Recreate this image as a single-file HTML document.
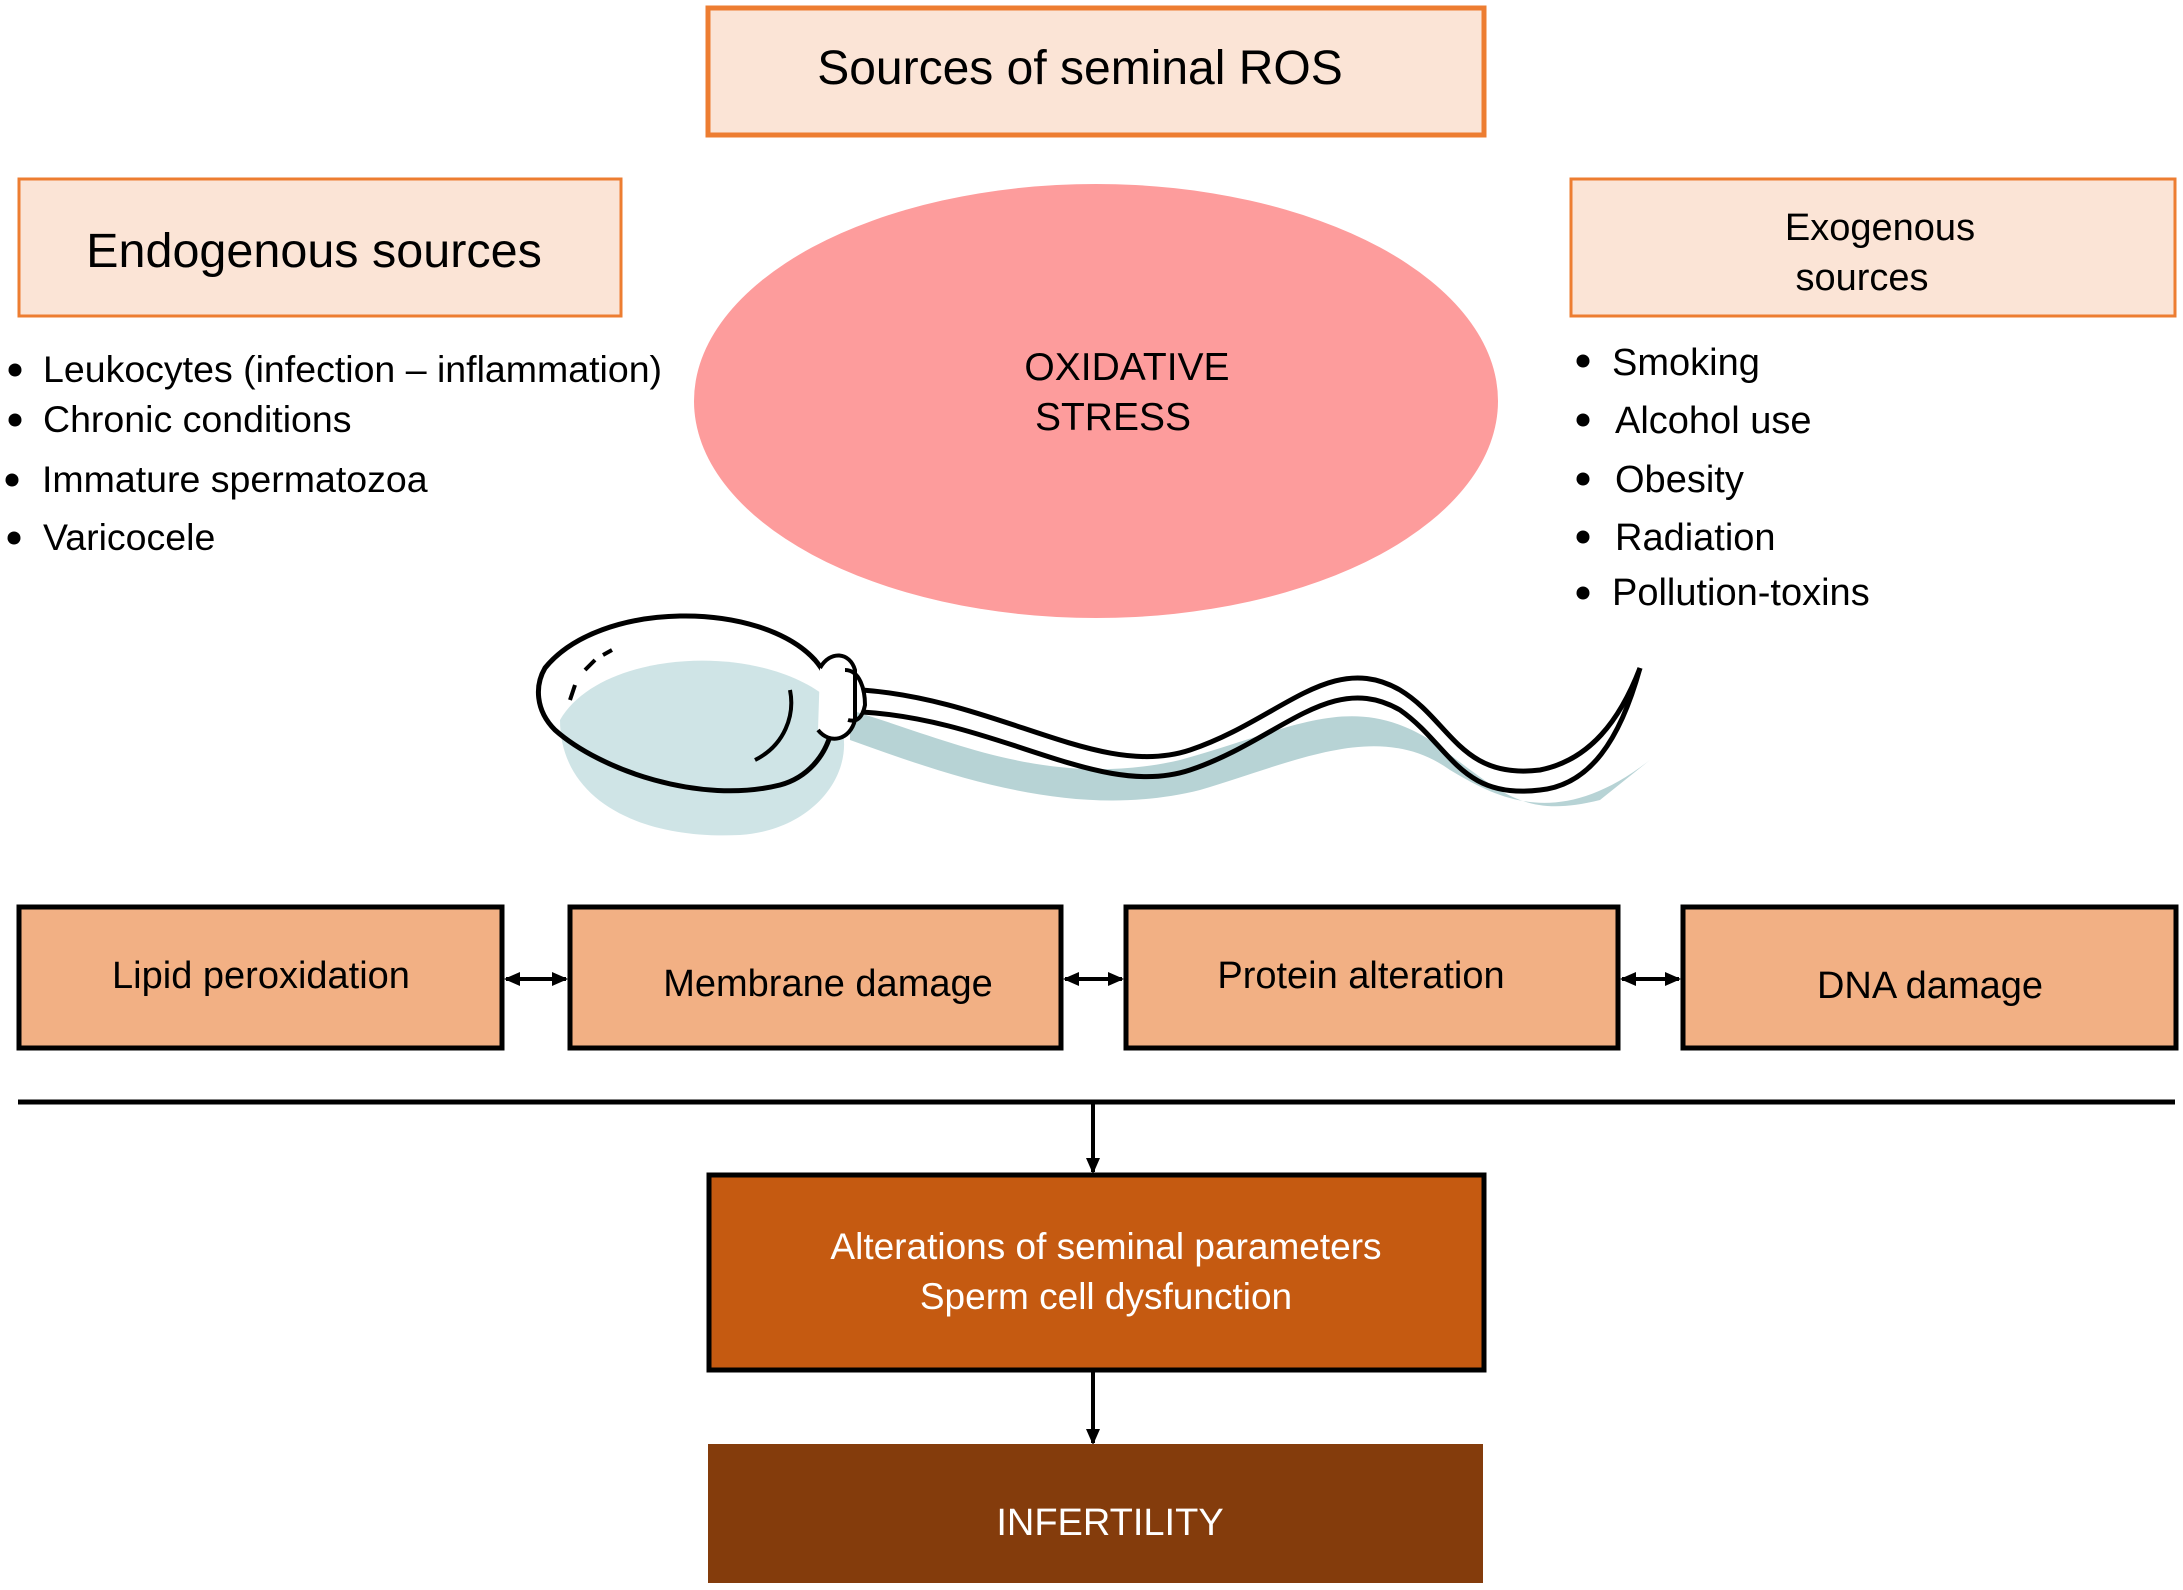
<!DOCTYPE html>
<html><head><meta charset="utf-8"><style>
html,body{margin:0;padding:0;background:#fff;}
svg{display:block;font-family:"Liberation Sans",Arial,sans-serif;}
</style></head><body>
<svg width="2183" height="1590" viewBox="0 0 2183 1590" xmlns="http://www.w3.org/2000/svg">
<defs>
<marker id="ah" markerWidth="16" markerHeight="14" refX="14" refY="7" orient="auto-start-reverse" markerUnits="userSpaceOnUse"><path d="M0,0 L16,7 L0,14 z" fill="#000"/></marker>
</defs>
<rect x="708" y="8" width="776" height="127" fill="#fbe4d6" stroke="#ed7d31" stroke-width="5"/>
<text x="1080" y="84" font-size="48" text-anchor="middle">Sources of seminal ROS</text>
<rect x="19" y="179" width="602" height="137" fill="#fbe4d6" stroke="#ed7d31" stroke-width="3"/>
<text x="314" y="267" font-size="48.5" text-anchor="middle">Endogenous sources</text>
<rect x="1571" y="179" width="604" height="137" fill="#fbe4d6" stroke="#ed7d31" stroke-width="3"/>
<text x="1880" y="240" font-size="38" text-anchor="middle">Exogenous</text>
<text x="1862" y="290" font-size="38" text-anchor="middle">sources</text>
<ellipse cx="1096" cy="401" rx="402" ry="217" fill="#fd9c9c"/>
<text x="1127" y="380" font-size="39" text-anchor="middle">OXIDATIVE</text>
<text x="1113" y="430" font-size="39" text-anchor="middle">STRESS</text>
<g font-size="37.5">
<text x="43" y="382">Leukocytes (infection – inflammation)</text>
<text x="43" y="432">Chronic conditions</text>
<text x="42" y="492">Immature spermatozoa</text>
<text x="43" y="550">Varicocele</text>
</g>
<g fill="#000"><circle cx="15" cy="370" r="6.5"/><circle cx="15" cy="420" r="6.5"/><circle cx="12" cy="480" r="6.5"/><circle cx="14" cy="538" r="6.5"/></g>
<g font-size="38">
<text x="1612" y="375">Smoking</text>
<text x="1615" y="433">Alcohol use</text>
<text x="1615" y="492">Obesity</text>
<text x="1615" y="550">Radiation</text>
<text x="1612" y="605">Pollution-toxins</text>
</g>
<g fill="#000"><circle cx="1583" cy="361" r="6.5"/><circle cx="1583" cy="420" r="6.5"/><circle cx="1583" cy="479" r="6.5"/><circle cx="1583" cy="537" r="6.5"/><circle cx="1583" cy="593" r="6.5"/></g>
<g>
<path d="M560,720 C600,650 760,640 830,700 C870,760 820,830 740,835 C640,840 560,800 560,720 Z" fill="#cfe4e6"/>
<path d="M850,710 C950,740 1050,790 1180,760 C1290,730 1350,690 1430,740 C1500,790 1520,820 1600,800 L1650,760 C1560,830 1500,800 1450,770 C1380,720 1300,760 1200,790 C1080,820 960,780 850,740 Z" fill="#b7d3d5"/>
<path d="M545,668 C600,600 760,600 815,660 C850,700 835,770 780,785 C700,805 600,770 555,730 C535,710 535,685 545,668 Z" fill="none" stroke="#000" stroke-width="5"/>
<path d="M755,760 C785,745 795,715 790,690" fill="none" stroke="#000" stroke-width="4"/>
<path d="M570,700 L575,685 M585,670 L595,660 M603,655 L612,650" stroke="#000" stroke-width="4"/>
<path d="M820,668 C830,650 850,652 855,670 L855,720 C850,740 830,745 818,730" fill="#fff" stroke="#000" stroke-width="4"/>
<path d="M845,670 C860,670 865,690 865,705 C862,720 855,722 848,720" fill="none" stroke="#000" stroke-width="4"/>
<path d="M862,690 C1000,700 1100,780 1190,750 C1280,720 1330,650 1400,690 C1450,720 1460,780 1540,770 C1590,760 1620,720 1640,668" fill="none" stroke="#000" stroke-width="5"/>
<path d="M862,712 C1000,720 1100,800 1190,770 C1280,740 1330,670 1400,710 C1450,745 1460,800 1540,790 C1590,785 1620,740 1640,668" fill="none" stroke="#000" stroke-width="5"/>
</g>
<g fill="#f2b084" stroke="#000" stroke-width="5">
<rect x="19" y="907" width="483" height="141"/>
<rect x="570" y="907" width="491" height="141"/>
<rect x="1126" y="907" width="492" height="141"/>
<rect x="1683" y="907" width="493" height="141"/>
</g>
<g font-size="38" text-anchor="middle">
<text x="261" y="988">Lipid peroxidation</text>
<text x="828" y="996">Membrane damage</text>
<text x="1361" y="988">Protein alteration</text>
<text x="1930" y="998">DNA damage</text>
</g>
<g stroke="#000" stroke-width="4">
<line x1="506" y1="979" x2="566" y2="979" marker-start="url(#ah)" marker-end="url(#ah)"/>
<line x1="1065" y1="979" x2="1122" y2="979" marker-start="url(#ah)" marker-end="url(#ah)"/>
<line x1="1622" y1="979" x2="1679" y2="979" marker-start="url(#ah)" marker-end="url(#ah)"/>
</g>
<line x1="18" y1="1102" x2="2175" y2="1102" stroke="#000" stroke-width="5"/>
<line x1="1093" y1="1102" x2="1093" y2="1172" stroke="#000" stroke-width="4" marker-end="url(#ah)"/>
<rect x="709" y="1175" width="775" height="195" fill="#c55a11" stroke="#000" stroke-width="5"/>
<text x="1106" y="1259" font-size="37" fill="#fff" text-anchor="middle">Alterations of seminal parameters</text>
<text x="1106" y="1309" font-size="37" fill="#fff" text-anchor="middle">Sperm cell dysfunction</text>
<line x1="1093" y1="1372" x2="1093" y2="1443" stroke="#000" stroke-width="4" marker-end="url(#ah)"/>
<rect x="708" y="1444" width="775" height="139" fill="#843c0c"/>
<text x="1110" y="1535" font-size="38" fill="#fff" text-anchor="middle">INFERTILITY</text>
</svg>
</body></html>
